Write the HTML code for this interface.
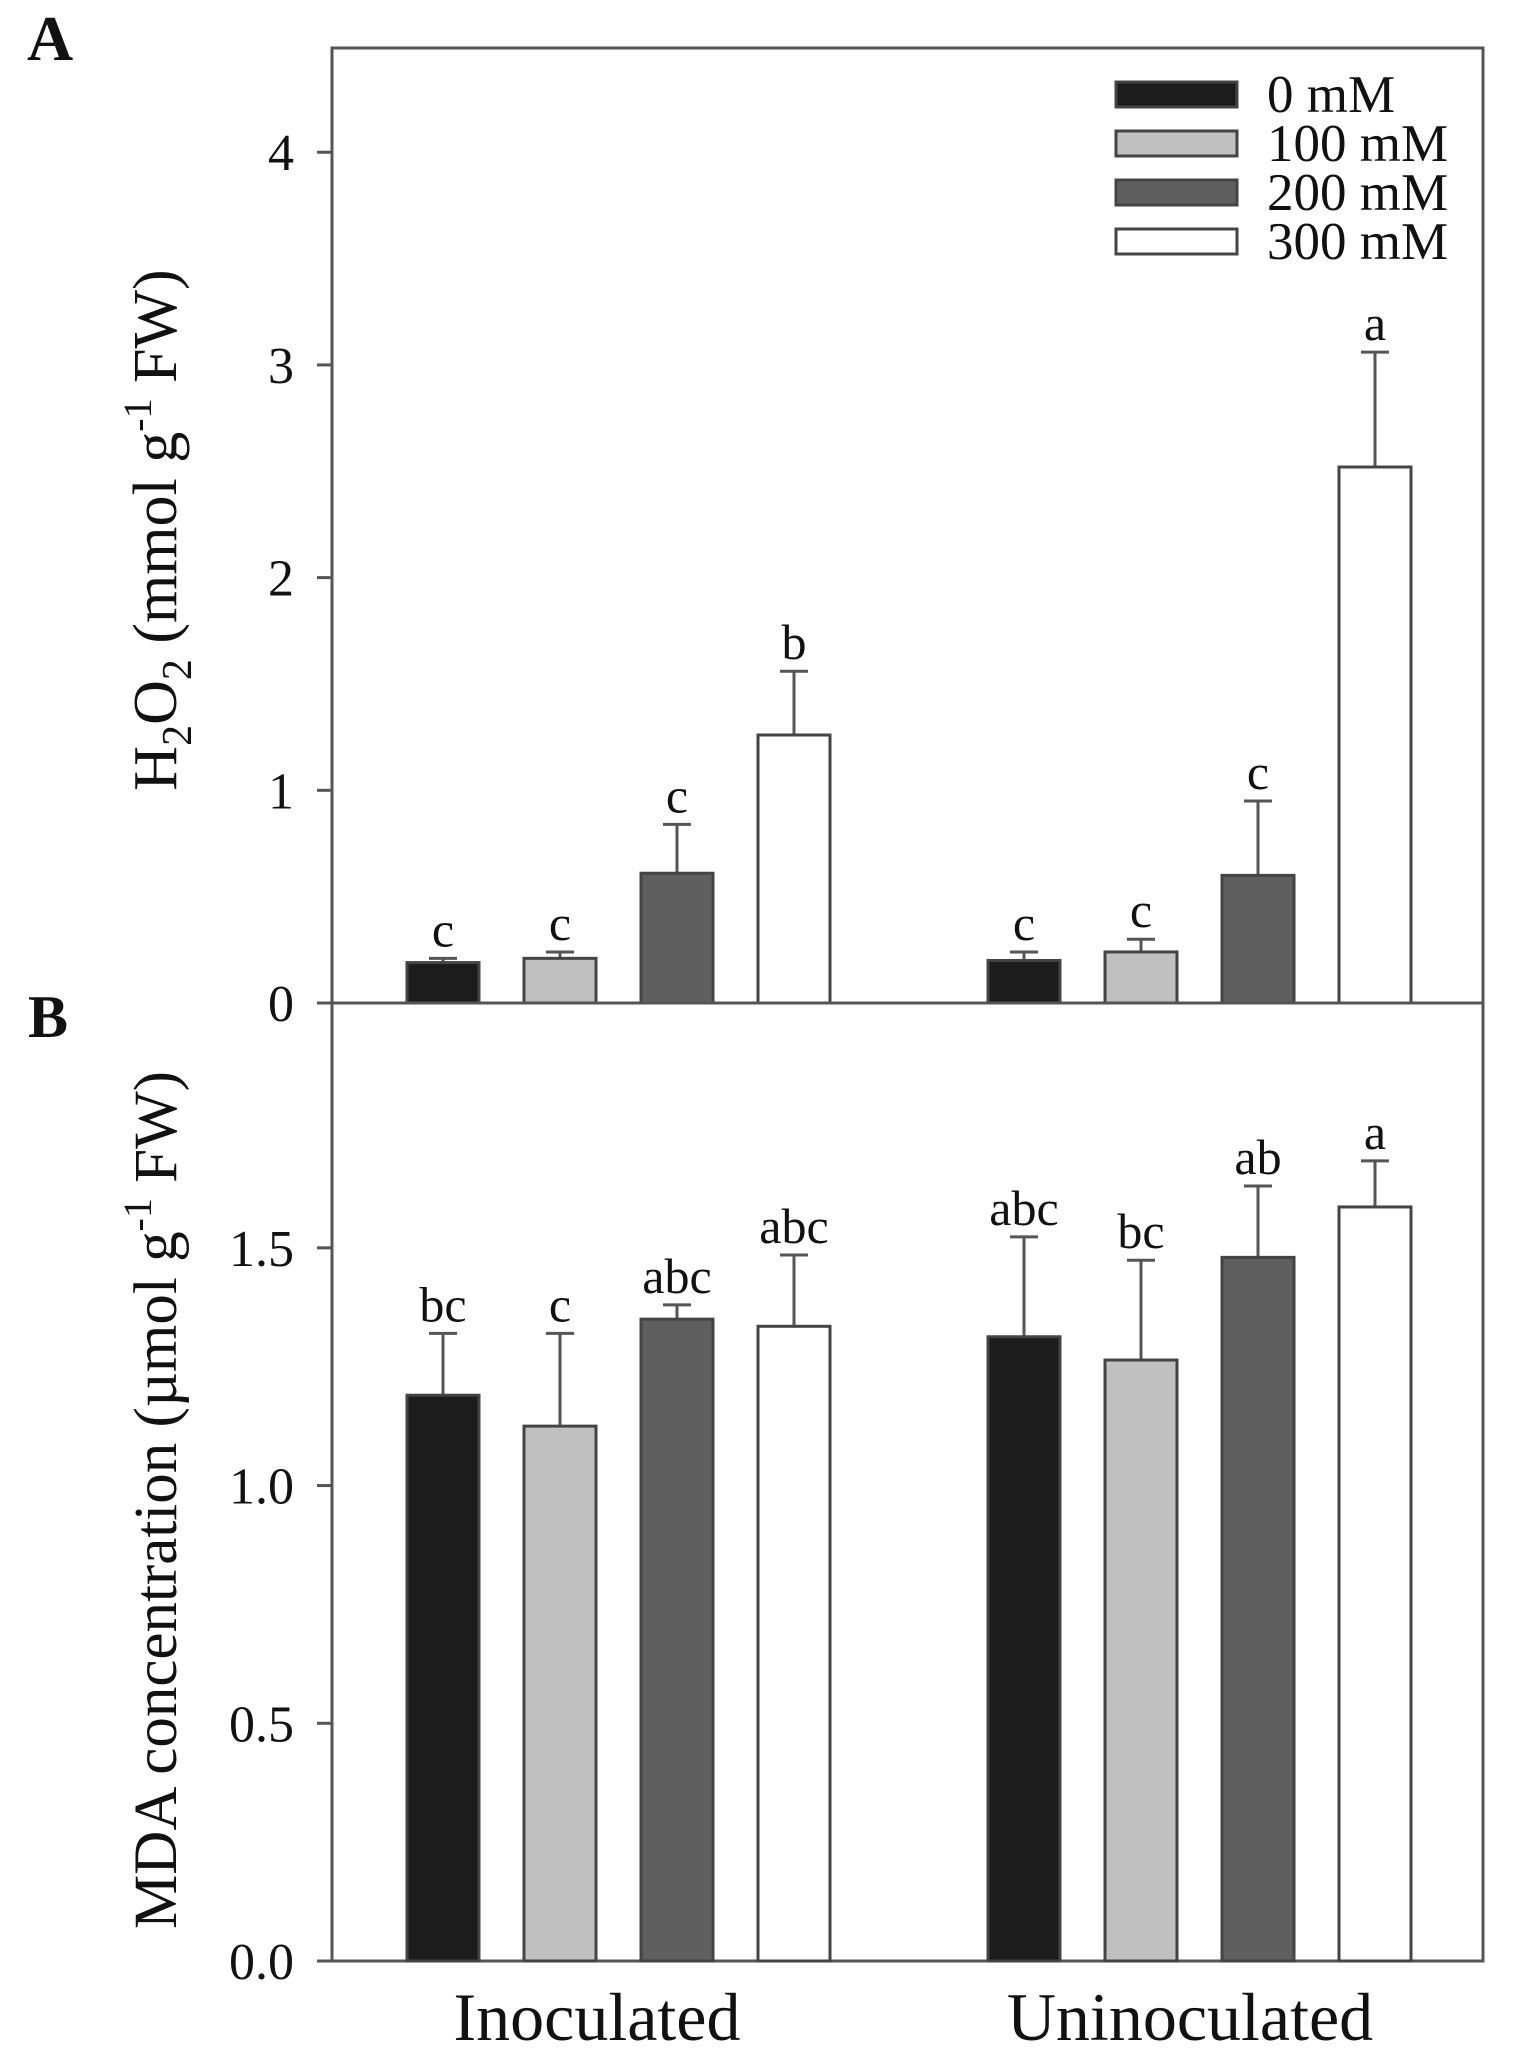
<!DOCTYPE html>
<html><head><meta charset="utf-8"><style>
html,body{margin:0;padding:0;background:#fff}
svg{display:block}
text{font-family:"Liberation Serif",serif;fill:#111}
</style></head><body>
<svg id="fig" width="1515" height="2069" viewBox="0 0 1515 2069">
<text x="27" y="60" font-size="64" font-weight="bold">A</text>
<text x="28" y="1037" font-size="60" font-weight="bold">B</text>
<g id="gA"></g>
<g id="gB"></g>
<text transform="translate(176,530) rotate(-90)" text-anchor="middle" font-size="62">H<tspan font-size="42" dy="15">2</tspan><tspan dy="-15">O</tspan><tspan font-size="42" dy="15">2</tspan><tspan dy="-15"> (mmol g</tspan><tspan font-size="40" dy="-25">-1</tspan><tspan dy="25"> FW)</tspan></text>
<text transform="translate(176,1500) rotate(-90)" text-anchor="middle" font-size="61">MDA concentration (µmol g<tspan font-size="40" dy="-25">-1</tspan><tspan dy="25"> FW)</tspan></text>
<g id="legend"></g>
</svg>
<script>
const groups = ["Inoculated","Uninoculated"];
const series = ["0 mM","100 mM","200 mM","300 mM"];
const colors = ["#1c1c1c","#c0c0c0","#5f5f5f","#ffffff"];
const h2o2 = [[0.19,0.21,0.61,1.26],[0.20,0.24,0.60,2.52]];
const h2o2Err = [[0.02,0.03,0.23,0.30],[0.04,0.06,0.35,0.54]];
const h2o2Letters = [["c","c","c","b"],["c","c","c","a"]];
const mda = [[1.19,1.125,1.35,1.335],[1.313,1.264,1.48,1.586]];
const mdaErr = [[0.13,0.195,0.03,0.15],[0.21,0.21,0.15,0.097]];
const mdaLetters = [["bc","c","abc","abc"],["abc","bc","ab","a"]];
const ticksA = [0,1,2,3,4];
const tickLabelsA = ["0","1","2","3","4"];
const ticksB = [0,0.5,1.0,1.5];
const tickLabelsB = ["0.0","0.5","1.0","1.5"];

const NS="http://www.w3.org/2000/svg";
const L=332,R=1483;
function mk(tag,attrs,parent,txt){const e=document.createElementNS(NS,tag);for(const k in attrs)e.setAttribute(k,attrs[k]);if(txt!==undefined)e.textContent=txt;parent.appendChild(e);return e;}
function xBar(g,s){return 407+g*581+s*117;}
const BW=72;

function panel(gEl,top,bottom,vmax,vals,errs,letters,ticks,tlabels,showX,key){
  const y=v=>bottom-(bottom-top)*v/vmax;
  const frame=mk('rect',{x:L,y:top,width:R-L,height:bottom-top,fill:'none',stroke:'#555','stroke-width':3},gEl);
  
  
  ticks.forEach((t,i)=>{
    const tk=mk('line',{x1:L-15,x2:L,y1:y(t),y2:y(t),stroke:'#555','stroke-width':3},gEl);
    
    
    const tl=mk('text',{x:294,y:y(t)+18,'text-anchor':'end','font-size':52},gEl,tlabels[i]);
    
    
  });
  vals.forEach((row,g)=>row.forEach((v,s)=>{
    const x=xBar(g,s), cx=x+BW/2;
    const eTop=y(v+errs[g][s]);
    const el=mk('line',{x1:cx,x2:cx,y1:y(v),y2:eTop,stroke:'#555','stroke-width':3},gEl);
    
    
    const cap=mk('line',{x1:cx-14,x2:cx+14,y1:eTop,y2:eTop,stroke:'#555','stroke-width':3},gEl);
    
    
    const b=mk('rect',{x:x,y:y(v),width:BW,height:bottom-y(v),fill:colors[s],stroke:'#444','stroke-width':3},gEl);
    
    
    const lt=mk('text',{x:cx,y:eTop-12,'text-anchor':'middle','font-size':50},gEl,letters[g][s]);
    
    
  }));
  if(showX){
    [597,1190].forEach((cx,g)=>{
      const t=mk('text',{x:cx,y:2040,'text-anchor':'middle','font-size':68},gEl,groups[g]);
      
      
    });
  }
}
panel(document.getElementById('gA'),48,1003,4.49,h2o2,h2o2Err,h2o2Letters,ticksA,tickLabelsA,false,'h2o2');
panel(document.getElementById('gB'),1003,1961,2.015,mda,mdaErr,mdaLetters,ticksB,tickLabelsB,true,'mda');

const lg=document.getElementById('legend');
series.forEach((s,i)=>{
  const yy=82+i*49;
  const r=mk('rect',{x:1116,y:yy,width:121,height:25,fill:colors[i],stroke:'#444','stroke-width':3},lg);
  
  
  const t=mk('text',{x:1267,y:yy+30,'font-size':53},lg,s);
  
  
});
</script>
</body></html>
